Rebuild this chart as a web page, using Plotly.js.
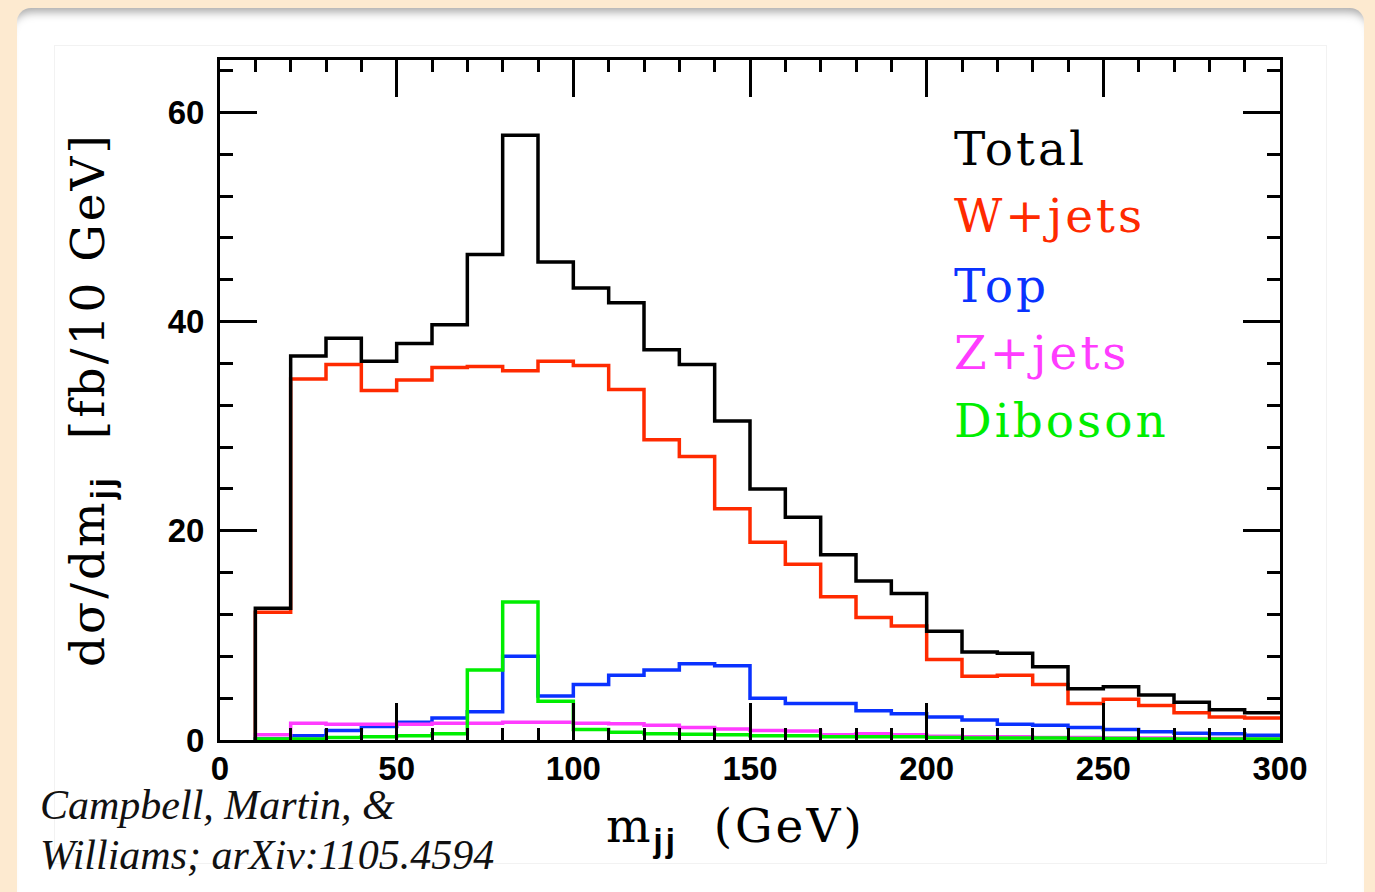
<!DOCTYPE html>
<html><head><meta charset="utf-8">
<script src="https://cdn.plot.ly/plotly-3.0.1.min.js"></script>
<style>
html,body{margin:0;padding:0;background:#fdead0;width:1375px;height:892px;overflow:hidden}
#panel{position:absolute;left:17px;top:8px;width:1347px;height:920px;background:#fff;border-radius:14px;box-shadow: inset 0 12px 10px -8px rgba(0,0,0,0.35);}
#inner{position:absolute;left:54px;top:45px;width:1271px;height:817px;border:1px solid #f2f2f2}
#chart{position:absolute;left:0;top:0;width:1375px;height:892px}
text.annotation-text[style*="DejaVu Serif"]{letter-spacing:3px}
</style></head><body>
<div id="panel"></div><div id="inner"></div>
<div id="chart"></div>
<script>
// lower edges of 10 GeV bins (m_jj, GeV)
const binLow = [10,20,30,40,50,60,70,80,90,100,110,120,130,140,150,160,170,180,190,200,210,220,230,240,250,260,270,280,290];
const binWidth = 10;
const total = [12.6,36.7,38.4,36.2,37.9,39.7,46.4,57.8,45.7,43.2,41.8,37.3,35.9,30.5,24.0,21.3,17.7,15.2,14.0,10.4,8.4,8.3,7.0,4.9,5.1,4.3,3.6,2.9,2.6];
const wjets = [12.2,34.5,35.9,33.4,34.4,35.6,35.7,35.3,36.2,35.8,33.5,28.7,27.1,22.1,18.9,16.8,13.7,11.7,10.9,7.7,6.1,6.2,5.3,3.5,3.9,3.3,2.6,2.2,2.1];
const top_ = [0.1,0.4,0.9,1.3,1.7,2.1,2.7,8.0,4.2,5.3,6.2,6.7,7.3,7.1,4.0,3.5,3.5,2.8,2.5,2.2,1.9,1.5,1.4,1.2,1.0,0.8,0.65,0.6,0.45];
const zjets = [0.5,1.6,1.5,1.5,1.5,1.6,1.6,1.7,1.7,1.6,1.55,1.4,1.2,1.05,0.9,0.85,0.5,0.6,0.5,0.35,0.3,0.3,0.25,0.25,0.2,0.2,0.15,0.15,0.1];
const diboson = [0.1,0.1,0.25,0.3,0.4,0.6,6.7,13.2,3.7,1.0,0.75,0.6,0.55,0.5,0.4,0.4,0.3,0.3,0.3,0.25,0.2,0.2,0.2,0.15,0.15,0.1,0.1,0.1,0.1];
const seriesNames = ["Total","W+jets","Top","Z+jets","Diboson"];
const seriesColors = ["#000000","#ff2a00","#0a32ff","#ff3cff","#00ee00"];
const xTickVals = [0,50,100,150,200,250,300];
const yTickVals = [0,20,40,60];

function stepXY(vals){
  const x=[binLow[0]], y=[0];
  for(let i=0;i<vals.length;i++){ x.push(binLow[i]); y.push(vals[i]); }
  x.push(binLow[binLow.length-1]+binWidth); y.push(vals[vals.length-1]);
  return {x,y};
}
const allSeries=[total,wjets,top_,zjets,diboson];
const order=[1,2,3,4,0];
const traces=order.map(k=>{
  const s=stepXY(allSeries[k]);
  return {x:s.x,y:s.y,type:'scatter',mode:'lines',line:{shape:'hv',color:seriesColors[k],width:3.5},name:seriesNames[k],hoverinfo:'skip'};
});

const L=220,R=1280,T=60,B=740;
const px=(p)=>(p-L)/(R-L), py=(p)=>(B-p)/(B-T);
const serif='DejaVu Serif';
const annotations=[];
const legY=[148,216,285,352,420];
seriesNames.forEach((n,i)=>annotations.push({text:n,xref:'paper',yref:'paper',x:px(952),y:py(legY[i]),xanchor:'left',yanchor:'middle',showarrow:false,font:{family:serif,size:47,color:seriesColors[i]}}));
annotations.push({text:'d\u03c3/dm<sub><span style="font-family:Liberation Sans;font-weight:bold">jj</span></sub>  [fb/10 GeV]',xref:'paper',yref:'paper',x:px(90),y:py(400),textangle:-90,xanchor:'center',yanchor:'middle',showarrow:false,font:{family:serif,size:47,color:'#000'}});
annotations.push({text:'m<sub><span style="font-family:Liberation Sans;font-weight:bold">jj</span></sub>  (GeV)',xref:'paper',yref:'paper',x:px(735),y:py(828),xanchor:'center',yanchor:'middle',showarrow:false,font:{family:serif,size:47,color:'#000'}});
annotations.push({text:'Campbell, Martin, &amp;',xref:'paper',yref:'paper',x:px(38),y:py(805),xanchor:'left',yanchor:'middle',showarrow:false,font:{family:'Liberation Serif',size:42,color:'#111',style:'italic'}});
annotations.push({text:'Williams; arXiv:1105.4594',xref:'paper',yref:'paper',x:px(38),y:py(855),xanchor:'left',yanchor:'middle',showarrow:false,font:{family:'Liberation Serif',size:42,color:'#111',style:'italic'}});

const tickFont={family:'Liberation Sans',size:33,color:'#000',weight:'bold'};
const layout={
  width:1375,height:892,
  margin:{l:L,r:1375-R,t:T,b:892-B,pad:0},
  paper_bgcolor:'rgba(0,0,0,0)',plot_bgcolor:'rgba(0,0,0,0)',
  showlegend:false,
  xaxis:{range:[0,300],tickvals:xTickVals,ticktext:xTickVals.map(String),ticks:'inside',ticklen:37,tickwidth:3,tickcolor:'#000',
    showline:true,linewidth:3,linecolor:'#000',mirror:'allticks',showgrid:false,zeroline:false,tickfont:tickFont,ticklabelstandoff:-3,
    minor:{dtick:10,tick0:0,ticks:'inside',ticklen:12,tickwidth:3,tickcolor:'#000',showgrid:false}},
  yaxis:{range:[0,65],tickvals:yTickVals,ticktext:yTickVals.map(String),ticks:'inside',ticklen:37,tickwidth:3,tickcolor:'#000',
    showline:true,linewidth:3,linecolor:'#000',mirror:'allticks',showgrid:false,zeroline:false,tickfont:tickFont,ticklabelstandoff:6,
    minor:{dtick:4,tick0:0,ticks:'inside',ticklen:13,tickwidth:3,tickcolor:'#000',showgrid:false}},
  annotations:annotations
};
Plotly.newPlot('chart',traces,layout,{displayModeBar:false,staticPlot:true});
</script>
</body></html>
